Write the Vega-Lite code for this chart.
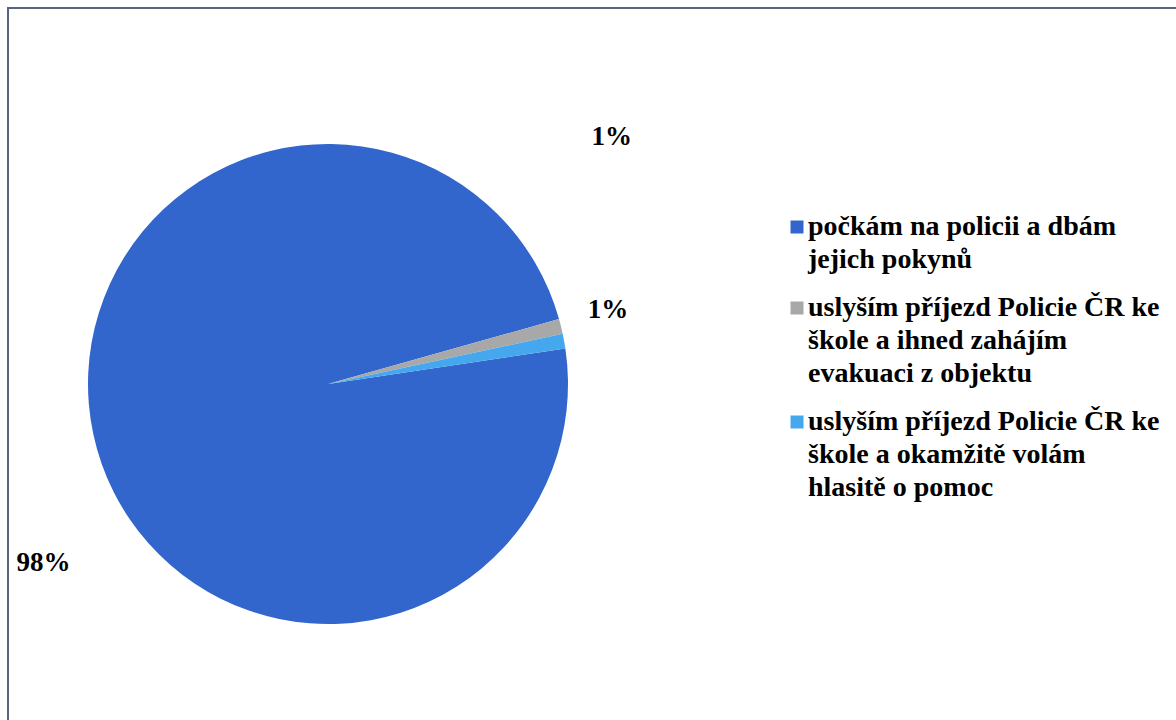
{
  "$schema": "https://vega.github.io/schema/vega-lite/v6.json",
  "width": 1168,
  "height": 712,
  "autosize": {"type": "none"},
  "padding": {"left": 8, "top": 8, "right": 0, "bottom": 0},
  "background": "white",
  "config": {"view": {"stroke": null}},
  "datasets": {
    "odpovedi": [
      {"idx": 1, "odpoved": "počkám na policii a dbám jejich pokynů", "podil": 98, "label": "98%"},
      {"idx": 2, "odpoved": "uslyším příjezd Policie ČR ke škole a ihned zahájím evakuaci z objektu", "podil": 1, "label": "1%"},
      {"idx": 3, "odpoved": "uslyším příjezd Policie ČR ke škole a okamžitě volám hlasitě o pomoc", "podil": 1, "label": "1%"}
    ],
    "ramecek": [{"ramecek": "graf"}]
  },
  "layer": [
    {
      "data": {"name": "ramecek"},
      "mark": {"type": "rect", "x": 0, "y": 0, "x2": {"expr": "width + 20"}, "y2": {"expr": "height + 20"}, "fill": null, "stroke": "#56647f", "strokeWidth": 2}
    },
    {
      "data": {"name": "odpovedi"},
      "encoding": {
        "theta": {"field": "podil", "type": "quantitative", "stack": true, "scale": {"range": [1.4224, 7.7056]}},
        "order": {"field": "idx", "type": "quantitative"}
      },
      "layer": [
        {
          "mark": {"type": "arc", "outerRadius": 240, "x": 320, "y": 376},
          "encoding": {
            "color": {
              "field": "odpoved",
              "type": "nominal",
              "scale": {
                "domain": [
                  "počkám na policii a dbám jejich pokynů",
                  "uslyším příjezd Policie ČR ke škole a ihned zahájím evakuaci z objektu",
                  "uslyším příjezd Policie ČR ke škole a okamžitě volám hlasitě o pomoc"
                ],
                "range": ["#3366cc", "#a8a8a8", "#45a8ee"]
              },
              "legend": {
                "orient": "none",
                "legendX": 775,
                "legendY": 205,
                "title": null,
                "symbolType": "square",
                "symbolSize": 169,
                "symbolStrokeWidth": 0,
                "symbolOpacity": 1,
                "labelFont": "Liberation Serif",
                "labelFontSize": 28,
                "labelFontWeight": "bold",
                "labelColor": "black",
                "labelLimit": 0,
                "labelOffset": -3,
                "rowPadding": 20,
                "padding": 0,
                "labelExpr": "datum.value == 'počkám na policii a dbám jejich pokynů' ? ['počkám na policii a dbám', 'jejich pokynů'] : datum.value == 'uslyším příjezd Policie ČR ke škole a ihned zahájím evakuaci z objektu' ? ['uslyším příjezd Policie ČR ke', 'škole a ihned zahájím', 'evakuaci z objektu'] : ['uslyším příjezd Policie ČR ke', 'škole a okamžitě volám', 'hlasitě o pomoc']",
                "encode": {"labels": {"update": {"lineHeight": {"value": 33}}}}
              }
            }
          }
        },
        {
          "mark": {"type": "text", "radius": 250, "x": 320, "y": 376, "dx": 41, "dy": -187, "font": "Liberation Serif", "fontWeight": "bold", "fontSize": 27, "fill": "black"},
          "encoding": {"text": {"condition": {"test": "datum.idx == 2", "field": "label"}, "value": ""}}
        },
        {
          "mark": {"type": "text", "radius": 250, "x": 320, "y": 376, "dx": 34, "dy": -29, "font": "Liberation Serif", "fontWeight": "bold", "fontSize": 27, "fill": "black"},
          "encoding": {"text": {"condition": {"test": "datum.idx == 3", "field": "label"}, "value": ""}}
        },
        {
          "mark": {"type": "text", "radius": 250, "x": 320, "y": 376, "dx": -40, "dy": 127, "font": "Liberation Serif", "fontWeight": "bold", "fontSize": 27, "fill": "black"},
          "encoding": {"text": {"condition": {"test": "datum.idx == 1", "field": "label"}, "value": ""}}
        }
      ]
    }
  ]
}
